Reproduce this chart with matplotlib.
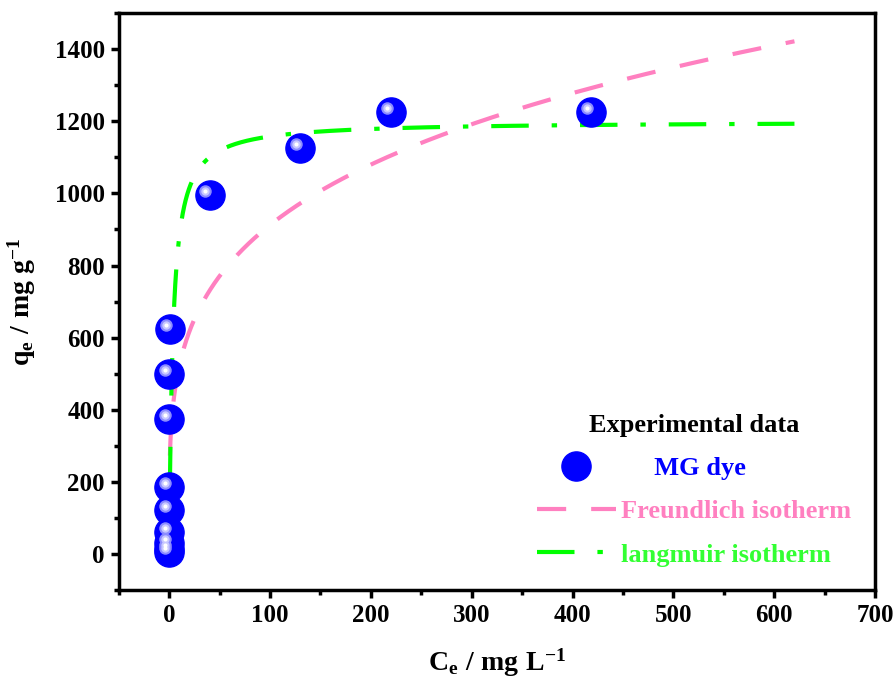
import matplotlib
matplotlib.use("Agg")
import matplotlib.pyplot as plt
import matplotlib.transforms as mtransforms
from matplotlib.lines import Line2D
import numpy as np

# experimental points (MG dye)
ce_exp = [0, 0, 0, 0, 0, 0, -0.5, 0, 0.5, 40, 130, 220, 418]
qe_exp = [5, 15, 30, 61, 123, 187, 374, 499, 625, 995, 1125, 1225, 1225]

# fitted isotherm parameters
qm_lang = 1200
k_lang = 0.275
kf_freund = 298
n_inv_freund = 0.243
ce_fit_min = 0.7
ce_fit_max = 620

plt.rcParams["font.family"] = ["Liberation Serif", "DejaVu Serif"]
plt.rcParams["font.weight"] = "bold"
plt.rcParams["mathtext.fontset"] = "custom"
plt.rcParams["mathtext.rm"] = "Liberation Serif:bold"
plt.rcParams["mathtext.it"] = "Liberation Serif:bold"
plt.rcParams["mathtext.bf"] = "Liberation Serif:bold"

fig = plt.figure(figsize=(8.93, 6.84), dpi=100)
ax = fig.add_axes([0.133, 0.137, 0.847, 0.844])

ce = np.geomspace(ce_fit_min, ce_fit_max, 600)
q_freund = kf_freund * ce ** n_inv_freund
q_lang = qm_lang * k_lang * ce / (1 + k_lang * ce)

# data spheres: blue body + light highlight
ax.plot(ce_exp, qe_exp, "o", ms=21, color="#0000ff", mec="#0000ff", zorder=3)
hl = mtransforms.offset_copy(ax.transData, fig=fig, x=-3, y=3, units="points")
ax.plot(ce_exp, qe_exp, "o", ms=9, color="#8c8cff", mec="none", transform=hl, zorder=4)
ax.plot(ce_exp, qe_exp, "o", ms=6, color="#c8c8ff", mec="none", transform=hl, zorder=5)
ax.plot(ce_exp, qe_exp, "o", ms=3, color="white", mec="none", transform=hl, zorder=6)

ax.plot(ce, q_freund, color="#ff80c0", lw=3, dashes=(7, 6), zorder=2)
ax.plot(ce, q_lang, color="#00ff00", lw=3, dashes=(9, 5.5, 1.3, 5.5), zorder=2)

ax.set_xlim(-50, 700)
ax.set_ylim(-100, 1500)
ax.set_xticks(np.arange(0, 701, 100))
ax.set_yticks(np.arange(0, 1401, 200))
ax.set_xticks(np.arange(-50, 701, 100), minor=True)
ax.set_yticks(np.arange(-100, 1501, 200), minor=True)
for s in ax.spines.values():
    s.set_linewidth(2.5)
ax.tick_params(which="major", direction="out", length=6, width=2.5, labelsize=18, pad=4)
ax.tick_params(which="minor", direction="out", length=3.5, width=2.5)
ax.tick_params(top=False, right=False)

ax.set_xlabel(r"$\mathrm{C_e\ /\ mg\ L^{-1}}$", fontsize=20, labelpad=14)
ax.set_ylabel(r"$\mathrm{q_e\ /\ mg\ g^{-1}}$", fontsize=20, labelpad=12)

# legend
h_exp = Line2D([], [], ls="none", marker="o", ms=21, color="#0000ff")
h_fr = Line2D([], [], color="#ff80c0", lw=3, dashes=(7, 6))
h_la = Line2D([], [], color="#00ff00", lw=3, dashes=(9, 5.5, 1.3, 5.5))
leg = ax.legend([h_exp, h_fr, h_la],
                ["     MG dye", "Freundlich isotherm", "langmuir isotherm"],
                title="Experimental data", frameon=False, fontsize=19,
                title_fontproperties={"size": 19, "weight": "bold"},
                loc="lower right", bbox_to_anchor=(1.0, 0.0),
                handlelength=3.0, handletextpad=0.2, labelspacing=0.75)
for t, c in zip(leg.get_texts(), ["#0000ff", "#ff80c0", "#33ff33"]):
    t.set_color(c)

fig.savefig("out.png", dpi=100)
